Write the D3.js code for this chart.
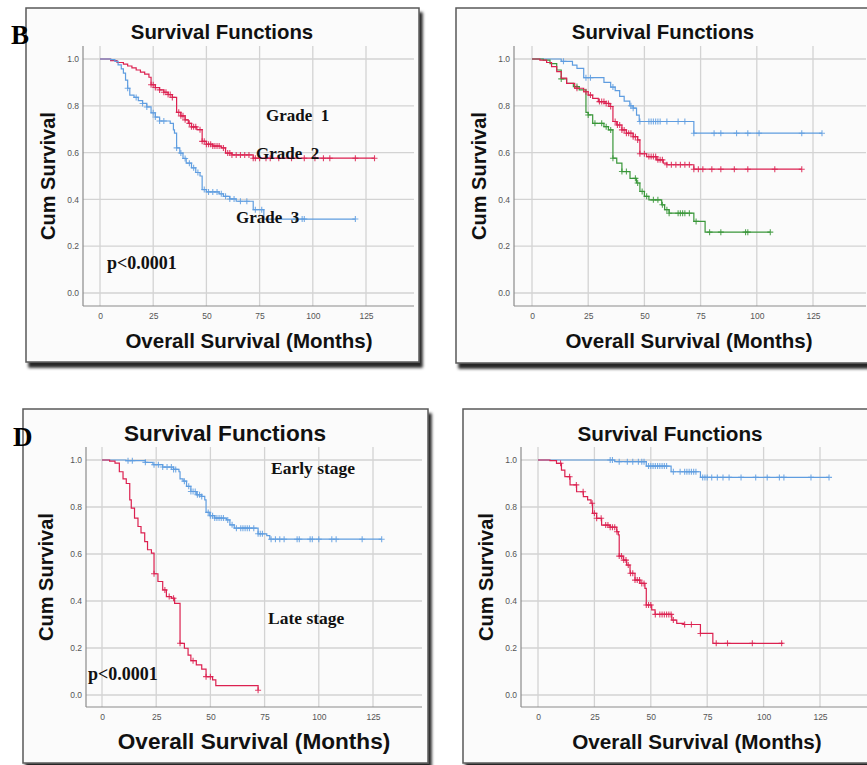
<!DOCTYPE html>
<html><head><meta charset="utf-8">
<script src="https://cdn.jsdelivr.net/npm/d3@7"></script>
<style>body{margin:0;background:#fff;}svg{display:block}</style>
</head><body>
<svg id="chart" width="867" height="765"></svg>
<script>
// ---------- DATA ----------
const xTicks = [0, 25, 50, 75, 100, 125];
const yTicks = [0.0, 0.2, 0.4, 0.6, 0.8, 1.0];
const titleText = "Survival Functions";
const xTitleText = "Overall Survival (Months)";
const yTitleText = "Cum Survival";

// Panel B (grade)
const bRedTimes = [0,5,8,11,13,15,17,19,21,23,24,26,28,30,32,34,36,38,40,41.5,43,45.5,48,50,53,57,59,62,72];
const bRedSurv  = [1.0,0.993,0.985,0.978,0.97,0.962,0.953,0.944,0.935,0.922,0.89,0.878,0.868,0.858,0.848,0.836,0.772,0.757,0.74,0.725,0.71,0.698,0.648,0.636,0.628,0.62,0.598,0.59,0.576];
const bRedEnd = 129;
const bRedCensor = [24,25,26,28,30,31,32,33,34,37,38,39,40,42,43,44,45,47,48,49,50,51,52,53,54,55,56,58,60,61,62,64,66,68,70,72,73,75,78,80,84,90,96,101,105,108,120,129];
const bBlueTimes = [0,5,7,8.5,10,11,12,13,14,16,18,20,22,24,26,28,33,34.5,35,36,37.5,39,40.5,43,45,47,48,50,56,58,61,64,72,77];
const bBlueSurv  = [1.0,0.997,0.99,0.975,0.958,0.94,0.91,0.875,0.846,0.836,0.822,0.81,0.795,0.77,0.752,0.735,0.725,0.697,0.683,0.62,0.598,0.575,0.555,0.535,0.515,0.5,0.442,0.432,0.424,0.413,0.402,0.392,0.356,0.316];
const bBlueEnd = 120;
const bBlueCensor = [13,17,20,22,25,26,28,30,36,38,40,42,44,46,49,51,53,55,57,59,61,63,66,69,73,76,92,95,96,120];
const bLabels = ["Grade  1", "Grade  2", "Grade  3", "p<0.0001"];

// Panel C (three groups)
const cBlueTimes = [0,13,18,20,23,32,35,37,39,41,43.5,45,46.5,47.7,72];
const cBlueSurv  = [1.0,0.99,0.974,0.96,0.92,0.9,0.88,0.865,0.84,0.82,0.80,0.79,0.76,0.733,0.683];
const cBlueEnd = 129;
const cBlueCensor = [14,24,26,36,44,45,48,52,53,54,55,56,57,60,65,68,72,81,84,91,96,101,120,129];
const cRedTimes = [0,3.5,6.5,8.7,11,13,15.4,19,23,25,27,29.5,32.5,34.7,36,37.7,40,42,45,47,48,51,55.5,58.4,60,72];
const cRedSurv  = [1.0,0.995,0.985,0.967,0.946,0.918,0.896,0.875,0.86,0.846,0.832,0.818,0.81,0.797,0.733,0.718,0.697,0.683,0.668,0.654,0.595,0.583,0.569,0.555,0.548,0.529];
const cRedEnd = 120;
const cRedCensor = [20,24,26,30,31,32,33,34,35,37,38,39,40,41,42,43,44,45,46,47,48,50,52,53,54,55,56,57,58,60,62,64,66,68,70,72,74,76,80,84,90,96,108,120];
const cGreenTimes = [0,5,8,11,13,15.4,18.4,21,24,25,27,32,34,36,37.7,40,43.6,46.5,48,50,52,57.7,59,61,72,77];
const cGreenSurv  = [1.0,0.995,0.98,0.953,0.915,0.896,0.882,0.868,0.772,0.761,0.725,0.711,0.697,0.576,0.555,0.519,0.49,0.47,0.434,0.413,0.398,0.377,0.356,0.341,0.306,0.26];
const cGreenEnd = 106;
const cGreenCensor = [13,20,25,28,31,33,35,36,40,42,46,47,49,51,54,56,58,60,61,65,66,67,68,70,73,79,84,95,96,106];

// Panel D (stage)
const dBlueTimes = [0,11,20,23.5,28,33,35.5,36,37.4,39,41,43.5,46,47.4,48,49.7,52,57.4,59,61,72,76,77.4];
const dBlueSurv  = [1.0,0.997,0.99,0.98,0.97,0.96,0.95,0.92,0.91,0.888,0.866,0.852,0.845,0.83,0.777,0.763,0.753,0.745,0.724,0.71,0.686,0.678,0.663];
const dBlueEnd = 129;
const dBlueCensor = [12,14,20,24,26,28,30,32,33,34,38,40,41,42,43,44,45,46,49,50,51,52,53,54,55,56,58,60,62,64,65,66,67,68,70,72,73,74,78,80,82,84,90,91,96,97,100,106,108,120,129];
const dRedTimes = [0,3.5,6,8,9.7,11.2,12.8,13.5,15,16.6,18,19.7,21,22.8,24,25.8,28,29.7,32,33.5,36,38,39.7,41,43.5,46,48,51,52.5,72];
const dRedSurv  = [1.0,0.995,0.987,0.95,0.92,0.9,0.83,0.795,0.753,0.717,0.69,0.653,0.618,0.604,0.516,0.483,0.447,0.419,0.412,0.39,0.22,0.199,0.17,0.146,0.128,0.11,0.078,0.064,0.04,0.02];
const dRedEnd = 72;
const dRedCensor = [24,29,31,33,36,42,48,50,72];
const dLabels = ["Early stage", "Late stage", "p<0.0001"];

// Panel E (two groups)
const eBlueTimes = [0,34,48,59,72];
const eBlueSurv  = [1.0,0.993,0.974,0.95,0.926];
const eBlueEnd = 129;
const eBlueCensor = [32,33,36,39.6,42,44.5,46,47,49,50,51,52,53,54,55,56,57,60,63,65,66,67,68,69,70,73,74,75,77,79.5,82,84.7,90,96.5,101.6,107,109,121,129];
const eRedTimes = [0,5.3,8.2,10.4,11.9,14.2,17.1,20.1,22,23.5,24.2,26,28.2,31.9,34.9,35.6,36,37.8,39.3,40.8,43,45.2,47.4,48,50.4,51.9,59.3,61.5,64.5,72,77.5];
const eRedSurv  = [1.0,0.997,0.986,0.957,0.929,0.894,0.865,0.844,0.83,0.816,0.773,0.752,0.723,0.714,0.695,0.681,0.591,0.574,0.553,0.518,0.489,0.475,0.454,0.383,0.362,0.343,0.319,0.305,0.30,0.262,0.22];
const eRedEnd = 108.7;
const eRedCensor = [10,14,17,20,24,25,26,28,30,31,32,33,34,35,36,37,38,39,40,41,42,43,44,45,46,47,48,49,50,52,54,55,56,57,58,59,60,65,68,72,79,84,95,108];

// ---------- STYLE / LAYOUT ----------
const RED = "#dc2150", BLUE = "#5f9de0", GREEN = "#3a973a";

const panels = [
  { frame:{x:26,y:8,w:393,h:354}, x0:100, x125:366, y0:293, y1:59, left:83, right:414, top:46, bottom:306,
    title:{x:222,y:39,size:20.4}, xt:{x:249,y:348,size:20.5}, yt:{x:55,y:176,size:20},
    series:[
      {t:bRedTimes,s:bRedSurv,end:bRedEnd,c:bRedCensor,color:RED},
      {t:bBlueTimes,s:bBlueSurv,end:bBlueEnd,c:bBlueCensor,color:BLUE}],
    labels:[{text:bLabels[0],x:266,y:121,size:17},{text:bLabels[1],x:256,y:159,size:17},
            {text:bLabels[2],x:236,y:223,size:17},{text:bLabels[3],x:107,y:269,size:18}],
    letter:{text:"B",x:11,y:44}},
  { frame:{x:456,y:8,w:440,h:355}, x0:532, x125:813, y0:293, y1:59, left:514, right:866, top:46, bottom:306,
    title:{x:663,y:39,size:20.4}, xt:{x:689,y:348,size:20.5}, yt:{x:486,y:176,size:20},
    series:[
      {t:cBlueTimes,s:cBlueSurv,end:cBlueEnd,c:cBlueCensor,color:BLUE},
      {t:cGreenTimes,s:cGreenSurv,end:cGreenEnd,c:cGreenCensor,color:GREEN},
      {t:cRedTimes,s:cRedSurv,end:cRedEnd,c:cRedCensor,color:RED}],
    labels:[], letter:null},
  { frame:{x:23,y:409,w:405,h:354}, x0:102, x125:373, y0:695, y1:460, left:86, right:422, top:447, bottom:707,
    title:{x:225,y:441,size:22.6}, xt:{x:254,y:749,size:22.6}, yt:{x:53,y:577,size:20},
    series:[
      {t:dBlueTimes,s:dBlueSurv,end:dBlueEnd,c:dBlueCensor,color:BLUE},
      {t:dRedTimes,s:dRedSurv,end:dRedEnd,c:dRedCensor,color:RED}],
    labels:[{text:dLabels[0],x:271,y:474,size:17.5},{text:dLabels[1],x:268,y:624,size:17.5},
            {text:dLabels[2],x:88,y:680,size:18}],
    letter:{text:"D",x:13,y:446}},
  { frame:{x:463,y:409,w:440,h:354}, x0:538, x125:820, y0:695, y1:460, left:521, right:867, top:447, bottom:707,
    title:{x:670,y:441,size:20.7}, xt:{x:697,y:749,size:20.7}, yt:{x:493,y:577,size:20},
    series:[
      {t:eBlueTimes,s:eBlueSurv,end:eBlueEnd,c:eBlueCensor,color:BLUE},
      {t:eRedTimes,s:eRedSurv,end:eRedEnd,c:eRedCensor,color:RED}],
    labels:[], letter:null}
];

// ---------- DRAW ----------
const svg = d3.select("#chart");
const defs = svg.append("defs");
const f = defs.append("filter").attr("id","shadow").attr("x","-5%").attr("y","-5%").attr("width","115%").attr("height","115%");
f.append("feDropShadow").attr("dx",3).attr("dy",5).attr("stdDeviation",1.8).attr("flood-color","#000").attr("flood-opacity",0.85);

function survAt(times, surv, t){
  let v = surv[0];
  for (let i=0;i<times.length;i++){ if (times[i] <= t + 1e-9) v = surv[i]; }
  return v;
}

panels.forEach(p => {
  const g = svg.append("g");
  g.append("rect").attr("x",p.frame.x).attr("y",p.frame.y).attr("width",p.frame.w).attr("height",p.frame.h)
    .attr("fill","#fbfbfb").attr("stroke","#5a5a5a").attr("stroke-width",1.5).attr("filter","url(#shadow)");

  const x = d3.scaleLinear().domain([0,125]).range([p.x0,p.x125]);
  const y = d3.scaleLinear().domain([0,1]).range([p.y0,p.y1]);

  // grid
  g.append("g").selectAll("line").data(xTicks).join("line")
    .attr("x1",d=>x(d)).attr("x2",d=>x(d)).attr("y1",p.top).attr("y2",p.bottom)
    .attr("stroke","#d3d3d3").attr("stroke-width",1.3);
  g.append("g").selectAll("line").data(yTicks).join("line")
    .attr("x1",p.left).attr("x2",p.right).attr("y1",d=>y(d)).attr("y2",d=>y(d))
    .attr("stroke","#d3d3d3").attr("stroke-width",1.3);

  const xAxis = d3.axisBottom(x).tickValues(xTicks).tickSize(0).tickPadding(0).tickFormat(d3.format("d"));
  const xa = g.append("g").attr("transform",`translate(0,${p.bottom+7})`).call(xAxis);
  xa.select(".domain").remove();
  xa.selectAll("text").attr("font-family","Liberation Sans, Arial, sans-serif").attr("font-size",8.5).attr("fill","#555");
  const yAxis = d3.axisLeft(y).tickValues(yTicks).tickSize(0).tickPadding(0).tickFormat(d3.format(".1f"));
  const ya = g.append("g").attr("transform",`translate(${p.left-4},0)`).call(yAxis);
  ya.select(".domain").remove();
  ya.selectAll("text").attr("font-family","Liberation Sans, Arial, sans-serif").attr("font-size",8.5).attr("fill","#555");

  g.append("line").attr("x1",p.left).attr("x2",p.left).attr("y1",p.top).attr("y2",p.bottom).attr("stroke","#8c8c8c").attr("stroke-width",1.2);
  g.append("line").attr("x1",p.left).attr("x2",p.right).attr("y1",p.bottom).attr("y2",p.bottom).attr("stroke","#8c8c8c").attr("stroke-width",1.2);

  const line = d3.line().x(d=>x(d[0])).y(d=>y(d[1])).curve(d3.curveStepAfter);
  p.series.forEach(s => {
    const pts = s.t.map((t,i)=>[t, s.s[i]]);
    pts.push([s.end, s.s[s.s.length-1]]);
    g.append("path").datum(pts).attr("d",line).attr("fill","none").attr("stroke",s.color).attr("stroke-width",1.2);
    g.append("g").selectAll("path").data(s.c).join("path")
      .attr("d",d=>{const cx=x(d), cy=y(survAt(s.t,s.s,d)); return `M${cx-3},${cy}h6M${cx},${cy-3}v6`;})
      .attr("stroke",s.color).attr("stroke-width",1.1).attr("stroke-opacity",0.85).attr("fill","none");
  });

  g.append("text").attr("x",p.title.x).attr("y",p.title.y).attr("text-anchor","middle")
    .attr("font-family","Liberation Sans, Arial, sans-serif").attr("font-weight","bold").attr("font-size",p.title.size)
    .attr("fill","#111").text(titleText);
  g.append("text").attr("x",p.xt.x).attr("y",p.xt.y).attr("text-anchor","middle")
    .attr("font-family","Liberation Sans, Arial, sans-serif").attr("font-weight","bold").attr("font-size",p.xt.size)
    .attr("fill","#111").text(xTitleText);
  g.append("text").attr("transform",`translate(${p.yt.x},${p.yt.y}) rotate(-90)`).attr("text-anchor","middle")
    .attr("font-family","Liberation Sans, Arial, sans-serif").attr("font-weight","bold").attr("font-size",p.yt.size)
    .attr("fill","#111").text(yTitleText);

  p.labels.forEach(l => {
    g.append("text").attr("x",l.x).attr("y",l.y).attr("font-family","Liberation Serif, Times New Roman, serif")
      .attr("font-weight","bold").attr("font-size",l.size).attr("fill","#111")
      .style("white-space","pre").text(l.text);
  });
  if (p.letter){
    g.append("text").attr("x",p.letter.x).attr("y",p.letter.y).attr("font-family","Liberation Serif, Times New Roman, serif")
      .attr("font-weight","bold").attr("font-size",27).attr("fill","#000").text(p.letter.text);
  }
});
</script>
</body></html>
